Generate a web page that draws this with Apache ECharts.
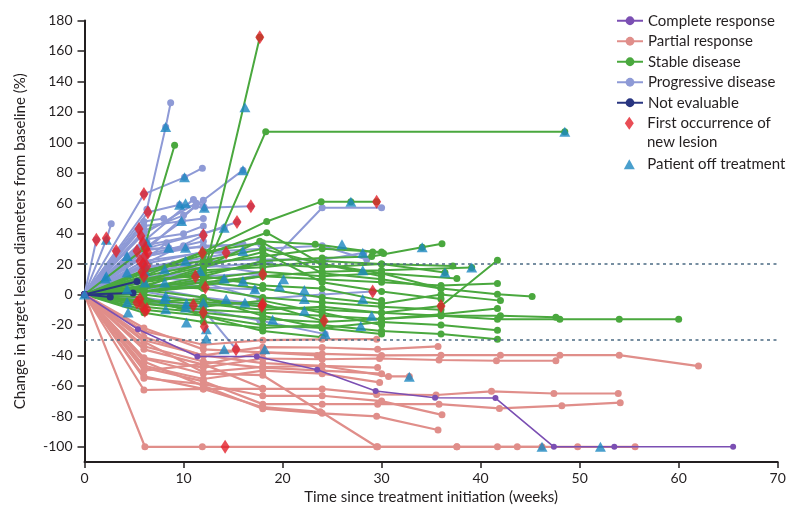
<!DOCTYPE html>
<html><head><meta charset="utf-8">
<script src="https://cdn.jsdelivr.net/npm/echarts@6/dist/echarts.min.js"></script>
<style>html,body{margin:0;padding:0;background:#fff}#c{width:800px;height:525px}</style>
</head><body><div id="c"></div>
<script>
// ---- tick values ----
const yTickValues = [-100,-80,-60,-40,-20,0,20,40,60,80,100,120,140,160,180];
const refLines = [20, -30];

// ---- patients: [week, % change] ----
const completeResponse = [
  [[0,0],[5.4,-22.8],[11.4,-40.7],[17.4,-40.7],[23.5,-49.4],[29.4,-63.4],[35.4,-67.8],[41.5,-68],[47.4,-100],[53.5,-100],[65.5,-100]]
];
const partialResponse = [
  [[0,0],[6.1,-100],[11.9,-100],[29.6,-100],[37.6,-100],[41.7,-100],[43.7,-100],[46.2,-100]],
  [[0,0],[6,-42],[12,-52],[18,-53],[29.5,-100],[37.6,-100],[49.8,-100],[55.6,-100]],
  [[0,0],[6,-24],[12,-33],[18,-30],[24,-29.4],[29.5,-29.3]],
  [[0,0],[6,-30],[12,-40],[18,-34.6],[24,-34.8],[29.6,-36],[35.7,-34.1]],
  [[0,0],[6,-36],[12,-46],[18,-38],[24,-39],[30,-40],[36,-39.8],[42,-39.8],[48,-39.8],[54,-39.8],[62,-47]],
  [[0,0],[6,-41.6],[12,-48],[18,-42],[24,-42.5],[29.8,-42],[35.8,-43],[41.6,-43.5],[47.6,-43.5]],
  [[0,0],[6,-31],[12,-51],[18,-47.6],[24,-46.8],[30.7,-53.8],[32.8,-53.8]],
  [[0,0],[6,-46.8],[12,-55.5],[18,-50],[24,-52],[29.8,-57.7]],
  [[0,0],[6,-53.8],[12,-62],[18,-62],[24,-62],[29.5,-65.6],[35.5,-66],[41.1,-63.6],[47.4,-65],[53.9,-65]],
  [[0,0],[6,-55],[12,-58.8],[18,-66.5],[24,-66.5],[30,-70],[36.1,-79]],
  [[0,0],[6,-48],[12,-57],[18,-72],[24,-72],[29.6,-72],[35.8,-72],[41.9,-74.8],[48.2,-73],[54.1,-71]],
  [[0,0],[6,-62.7],[12,-62],[18,-74],[23.8,-77]],
  [[0,0],[6,-44],[12,-60],[18,-75],[24,-78],[29.5,-80],[35.7,-89]],
  [[0,0],[6,-28],[12,-40],[18,-45],[24,-46.8],[29.6,-48]],
  [[0,0],[6,-22],[12,-36],[18,-38],[23.5,-40]],
  [[0,0],[6,-50],[12,-45.7],[18,-61.5]],
  [[0,0],[6,-34],[12,-44],[18,-48],[24,-50],[30,-52]]
];
const stableDisease = [
  [[0,0],[6,2],[11.8,5],[17.7,169]],
  [[0,0],[6,8],[12.6,22],[18.3,107],[48.5,107]],
  [[0,0],[6,30],[9.1,98]],
  [[0,0],[6,12],[12,28],[18.4,48],[23.9,61],[26.9,61],[29.5,61]],
  [[0,0],[6,10],[12,18],[17.7,35],[23.3,33],[29.1,28],[30.2,27]],
  [[0,0],[6,4],[12,12],[18,22],[24,24],[29,25],[34.1,31],[36.1,33.4]],
  [[0,0],[6,15],[12,26],[18.4,40.6],[24,20],[30,14],[36,4],[41.7,0.2],[45.2,-1.3]],
  [[0,0],[6,-5],[12,-3],[18,-8],[24,-10],[30,-12],[36,-7.5],[41.7,22.5]],
  [[0,0],[6,5],[12,8],[18,12],[24,10],[30,8],[36,6],[41.7,7.2]],
  [[0,0],[6,-6],[12,-10],[18,-12],[24,-14],[30,-16],[36,-13],[41.7,-9.2]],
  [[0,0],[6,-8],[12,-12],[18,-16],[24,-18],[30,-16],[36,-14],[41.7,-16.2],[48,-16.2],[54,-16.2],[60,-16.2]],
  [[0,0],[6,-10],[12,-14],[18,-20],[24,-22],[30,-18],[36,-20],[41.7,-23.4]],
  [[0,0],[6,-12],[12,-18],[18,-22],[24,-20],[30,-24],[36,-26],[41.7,-29.3]],
  [[0,0],[6,-4],[12,-6],[18,-10],[24,-8],[30,-12],[36,-14],[42,-14],[47.6,-15]],
  [[0,0],[6,4],[12,10],[18,15],[24,12],[30,14],[37.6,10.5]],
  [[0,0],[6,8],[12,14],[18,20],[24,18],[30,20],[36.4,14.4]],
  [[0,0],[6,6],[12,16],[18,18],[24,22],[30,20],[37.2,18.8]],
  [[0,0],[6,2],[12,6],[18,12],[24,15],[30,16],[39.1,17.7]],
  [[0,0],[6,0],[12,-5],[18,-6],[24.1,-17.3]],
  [[0,0],[6,6],[12,4],[18,-2],[24,-5],[30,-8],[36,-10]],
  [[0,0],[6,10],[12,12],[18,6],[24,4],[30,-4]],
  [[0,0],[6,-6],[12,-8],[18,-4],[24,-12],[30,-20]],
  [[0,0],[6,12],[12,20],[18,25],[24,30],[30,28]],
  [[0,0],[6,3],[12,-2],[18,-14],[24,-22],[30,-26]],
  [[0,0],[6,14],[12,28],[18,34],[24,14],[30,10],[36,4]],
  [[0,0],[6,16],[12,22],[18,30],[24,20],[30,12]],
  [[0,0],[6,-2],[12,-14],[18,-24],[24,-28]],
  [[0,0],[6,5],[12,18],[18,28],[24,8],[30,2],[36,-3]],
  [[0,0],[6,2],[12,8],[18,4],[24,-2],[30,-6],[36,0],[42,-4]]
];
const progressiveDisease = [
  [[0,0],[6.3,56],[8.2,110],[8.7,126]],
  [[0,0],[6,66],[10.1,77],[11.9,83]],
  [[0,0],[6,28],[11.2,58],[16,81.7]],
  [[0,0],[6.4,54],[9.6,59],[12.1,57],[16.8,58]],
  [[0,0],[2.2,36],[2.7,46.5]],
  [[0,0],[1.2,36]],
  [[0,0],[3.2,28.6]],
  [[0,0],[6,12],[12,8],[17.7,-3],[24,0],[29.1,2]],
  [[0,0],[6,18],[12,22],[17.7,23],[24.3,23],[28.2,27.5]],
  [[0,0],[6,-5],[12,-10],[17.7,-17],[24.3,-26]],
  [[0,0],[6,15],[12,18],[18.7,21],[24,57],[30,57]],
  [[0,0],[6,35],[11,62.5]],
  [[0,0],[6,40],[11.3,60],[12,58]],
  [[0,0],[6,30],[9.9,48.3]],
  [[0,0],[6,32],[12,40],[14.1,44]],
  [[0,0],[5.5,43]],
  [[0,0],[5.7,38.5]],
  [[0,0],[5.9,34]],
  [[0,0],[6.3,34.5]],
  [[0,0],[5.3,28.6],[8.5,30.8]],
  [[0,0],[6.1,25],[10.2,30.8]],
  [[0,0],[4.3,25.3]],
  [[0,0],[6,20],[12,38.9]],
  [[0,0],[6,22],[12,27.5],[14.3,27.5]],
  [[0,0],[6,30],[12,40],[15.4,47.6]],
  [[0,0],[6,18],[12,24],[16,28.6]],
  [[0,0],[6,19],[8.1,16.6]],
  [[0,0],[4.3,14.4]],
  [[0,0],[2.1,10.5]],
  [[0,0],[6,10],[11.7,15.5]],
  [[0,0],[6,8],[10.2,22]],
  [[0,0],[6,12],[12,12],[18,14]],
  [[0,0],[6,10],[11.2,12],[14.1,10.5]],
  [[0,0],[6,6],[12,8],[16,8.9]],
  [[0,0],[6,4],[12,4.6],[17.2,3.5]],
  [[0,0],[6,20],[12,28],[18,30],[24,32],[28.5,23]],
  [[0,0],[6,-7.5]],
  [[0,0],[6.1,-10.7]],
  [[0,0],[6,2],[12,-5],[17.9,-7.5]],
  [[0,0],[6,5],[12,-2],[18,-6.4]],
  [[0,0],[6,-2],[11,-7]],
  [[0,0],[6,-4],[12,-11.8]],
  [[0,0],[6,5],[12,6],[18,13.3]],
  [[0,0],[6,15],[12,20],[18,14]],
  [[0,0],[6,-3],[12,-10],[15.3,-35.9]],
  [[0,0],[6,45],[12,50]],
  [[0,0],[6,26],[10,32],[12,35]],
  [[0,0],[6,48],[8,50]],
  [[0,0],[4,20],[6,24]],
  [[0,0],[6,16],[9,20],[12,22]],
  [[0,0],[6,22],[8.3,34]],
  [[0,0],[6,30],[12,31],[16,33]],
  [[0,0],[6,36],[10,40],[12,45]],
  [[0,0],[6,25],[12,32],[17.8,33]],
  [[0,0],[6,42],[10,52],[12,62]]
];
const notEvaluable = [
  [[0,0],[5.3,8.5]],
  [[0,0],[2.6,-1.6]],
  [[0,0],[4.9,1]]
];
const newLesion = [
  [1.2,36],[2.2,37],[3.2,28.6],[6,66],[6.4,54],[5.5,43],[5.7,38.5],[5.9,34],[5.3,28.6],[6.1,25.3],
  [6.4,27.5],[5.6,22],[6.3,18.8],[5.8,15],[6.0,12],[5.6,-3],[5.3,-5.2],[5.8,-7.5],[6.1,-10.7],[6.3,-9.6],
  [11.2,11.8],[11,-7],[12,-11.8],[12,38.9],[11.9,27.5],[12.2,4.6],[14.3,27.5],[15.4,47.6],[16.8,58],
  [17.7,169],[18,13.3],[17.9,-7.5],[18,-6.4],[15.3,-35.9],[14.2,-100],[24.2,-17.3],[29.1,2],[29.5,61],
  [36,-7.5],[12.1,-21],[5.9,20],[6.2,30]
];
const offTreatment = [
  [0,0],[2.1,10.5],[2.2,12],[2.2,36],[4.3,25.3],[4.3,14.4],[4.3,3.5],[4.3,-5],[4.4,-11.8],[6.1,19.9],
  [6.1,15.5],[6.1,7.9],[6.3,34.5],[8.5,30.8],[8.1,16.6],[8.1,7.9],[8.2,-1],[8.2,-9.6],[8.1,-3],[8.2,110],
  [9.6,59],[9.8,48.3],[10.1,77],[10.2,60],[10.2,30.8],[10.2,22],[10.3,-5.7],[10.3,-18.4],[10.2,-8.5],
  [11.7,15.5],[12.1,57],[12,-5],[12.3,-22.8],[12.3,-28.9],[14.1,43.9],[14.1,10.5],[14.1,-35.9],[14.3,-3],
  [16,81.7],[16,28.6],[16,8.9],[16.2,123],[16.2,-5.2],[17.2,3.5],[18.2,-35.9],[19,-16.6],[19.7,5.2],
  [20.1,10],[22.2,3],[22.2,-3],[22.2,-10.7],[24.3,-26],[26,33],[26.9,61],[28.1,27.5],[28.1,16],[28.1,-3],
  [29,-14],[27.9,-20.6],[32.8,-54],[34.1,31],[36.4,14.4],[39.1,17.7],[46.2,-100],[48.5,107],[52.1,-100]
];

// ---- styling ----
const FONT = 'Lato, "Open Sans", sans-serif';
const INK = '#231f20';
const C = {
  cr: '#7b4fb3', pr: '#e08e8a', sd: '#4aa83e', pd: '#8e9ad6', ne: '#283580',
  nl: '#e4202a', ot: '#1c87c1', ref: '#4a6a82'
};

function lines(name, color, patients, width, size, z) {
  return patients.map(p => ({
    type: 'line', name, data: p, z,
    symbol: 'circle', symbolSize: size, showSymbol: true,
    lineStyle: { color, width }, itemStyle: { color },
    emphasis: { disabled: true }, silent: true, animation: false
  }));
}

const series = [].concat(
  lines('Progressive disease', C.pd, progressiveDisease, 2, 7, 2),
  lines('Stable disease', C.sd, stableDisease, 2, 7, 3),
  lines('Partial response', C.pr, partialResponse, 2.2, 7, 4),
  lines('Not evaluable', C.ne, notEvaluable, 2, 7, 5),
  lines('Complete response', C.cr, completeResponse, 1.6, 6, 6),
  [{
    type: 'line', name: 'ref', data: [], silent: true, z: 1,
    markLine: {
      silent: true, symbol: 'none', animation: false,
      label: { show: false },
      lineStyle: { color: C.ref, type: [3, 3.5], width: 1.6 },
      data: refLines.map(v => ({ yAxis: v }))
    }
  },
  {
    type: 'scatter', name: 'Patient off treatment', data: offTreatment, z: 7,
    symbol: 'triangle', symbolSize: [11, 10], itemStyle: { color: C.ot },
    silent: true, animation: false
  },
  {
    type: 'scatter', name: 'First occurrence of new lesion', data: newLesion, z: 8,
    symbol: 'diamond', symbolSize: [9, 14], itemStyle: { color: C.nl },
    silent: true, animation: false
  }]
);

const chart = echarts.init(document.getElementById('c'), null, { renderer: 'canvas' });
chart.setOption({
  backgroundColor: '#fff',
  animation: false,
  textStyle: { fontFamily: FONT, color: INK },
  grid: { left: 84.5, right: 22.3, top: 20.5, bottom: 63, containLabel: false },
  xAxis: {
    type: 'value', min: 0, max: 70, interval: 10,
    name: 'Time since treatment initiation (weeks)', nameLocation: 'middle', nameGap: 27,
    nameTextStyle: { fontFamily: FONT, fontSize: 15, color: INK },
    axisLine: { show: true, onZero: false, lineStyle: { color: INK, width: 2 } },
    axisTick: { show: true, length: 6, lineStyle: { color: INK, width: 1.5 } },
    axisLabel: { fontFamily: FONT, fontSize: 14, color: INK, margin: 9 },
    splitLine: { show: false }
  },
  yAxis: {
    type: 'value', min: -110, max: 180,
    name: 'Change in target lesion diameters from baseline (%)', nameLocation: 'middle', nameGap: 57,
    nameTextStyle: { fontFamily: FONT, fontSize: 15, color: INK },
    axisLine: { show: true, onZero: false, lineStyle: { color: INK, width: 2 } },
    axisTick: { show: true, length: 7, customValues: yTickValues, lineStyle: { color: INK, width: 1.5 } },
    axisLabel: { fontFamily: FONT, fontSize: 14, color: INK, margin: 12, customValues: yTickValues },
    splitLine: { show: false }
  },
  legend: [
    {
      orient: 'vertical', left: 616, top: 10.5, padding: 0, itemGap: 0,
      itemWidth: 26, itemHeight: 11, selectedMode: false,
      textStyle: { fontFamily: FONT, fontSize: 15, color: INK, lineHeight: 20.5 },
      data: ['Complete response', 'Partial response', 'Stable disease', 'Progressive disease', 'Not evaluable']
    },
    {
      orient: 'vertical', left: 624.8, top: 113, padding: 0, itemGap: 0,
      itemWidth: 9, itemHeight: 13, selectedMode: false,
      formatter: () => '{s|}First occurrence of',
      textStyle: { fontFamily: FONT, fontSize: 15, color: INK, lineHeight: 20.5, rich: { s: { width: 8.5 } } },
      data: [{ name: 'First occurrence of new lesion', icon: 'diamond' }]
    },
    {
      orient: 'vertical', left: 623.8, top: 154, padding: 0, itemGap: 0,
      itemWidth: 11, itemHeight: 10, selectedMode: false,
      formatter: n => '{s|}' + n,
      textStyle: { fontFamily: FONT, fontSize: 15, color: INK, lineHeight: 20.5, rich: { s: { width: 7.5 } } },
      data: [{ name: 'Patient off treatment', icon: 'triangle' }]
    }
  ],
  graphic: [{
    type: 'text', left: 647, top: 135,
    style: { text: 'new lesion', fontFamily: FONT, fontSize: 15, fill: INK }
  }],
  series
});
</script>
</body></html>
